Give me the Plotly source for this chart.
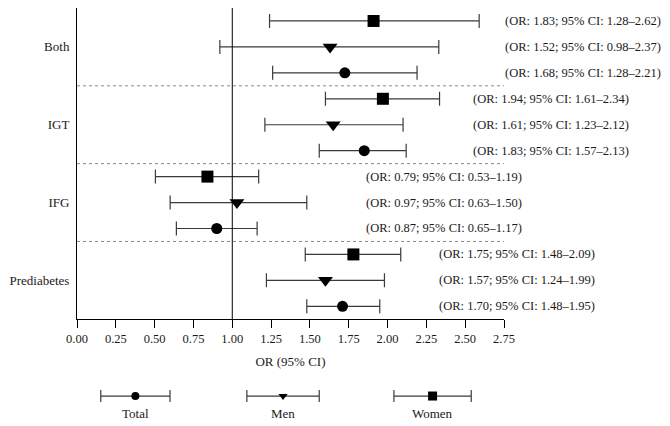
import plotly.graph_objects as go

# ---------------- data ----------------
GROUPS = ["Both", "IGT", "IFG", "Prediabetes"]
SEXES = ["Women", "Men", "Total"]          # order inside each group, top to bottom

OR_WOMEN = [1.91, 1.97, 0.84, 1.78]
LO_WOMEN = [1.24, 1.60, 0.505, 1.47]
HI_WOMEN = [2.59, 2.335, 1.17, 2.085]

OR_MEN = [1.63, 1.65, 1.03, 1.60]
LO_MEN = [0.92, 1.21, 0.60, 1.22]
HI_MEN = [2.33, 2.10, 1.48, 1.98]

OR_TOTAL = [1.725, 1.85, 0.90, 1.71]
LO_TOTAL = [1.26, 1.56, 0.64, 1.48]
HI_TOTAL = [2.19, 2.12, 1.16, 1.95]

LBL_WOMEN = ["(OR: 1.83; 95% CI: 1.28–2.62)", "(OR: 1.94; 95% CI: 1.61–2.34)",
             "(OR: 0.79; 95% CI: 0.53–1.19)", "(OR: 1.75; 95% CI: 1.48–2.09)"]
LBL_MEN = ["(OR: 1.52; 95% CI: 0.98–2.37)", "(OR: 1.61; 95% CI: 1.23–2.12)",
           "(OR: 0.97; 95% CI: 0.63–1.50)", "(OR: 1.57; 95% CI: 1.24–1.99)"]
LBL_TOTAL = ["(OR: 1.68; 95% CI: 1.28–2.21)", "(OR: 1.83; 95% CI: 1.57–2.13)",
             "(OR: 0.87; 95% CI: 0.65–1.17)", "(OR: 1.70; 95% CI: 1.48–1.95)"]

X_TICKS = [0, 0.25, 0.5, 0.75, 1.0, 1.25, 1.5, 1.75, 2.0, 2.25, 2.5, 2.75]
X_TICK_LABELS = ["0.00", "0.25", "0.50", "0.75", "1.00", "1.25", "1.50",
                 "1.75", "2.00", "2.25", "2.50", "2.75"]
X_TITLE = "OR (95% CI)"
LEGEND_LABELS = ["Total", "Men", "Women"]

# ---------------- layout constants ----------------
FONT = "Liberation Serif, Times New Roman, serif"
TXT = "#1a1a1a"
BAR = "#3a3a3a"
X_MAX = 2.75
LABEL_X = [2.745, 2.54, 1.85, 2.32]           # left edge of the OR text per group (axis units)
LEG_X = [0.376, 1.327, 2.29]                  # legend item centres (legend axes)
LEG_HALF = [0.223, 0.233, 0.249]
LEG_Y, LEG_LABEL_Y = 0.478, 0.207

series = [
    ("Women", OR_WOMEN, LO_WOMEN, HI_WOMEN, LBL_WOMEN, "square", 12, 0),
    ("Men", OR_MEN, LO_MEN, HI_MEN, LBL_MEN, "triangle-down", 13, 1),
    ("Total", OR_TOTAL, LO_TOTAL, HI_TOTAL, LBL_TOTAL, "circle", 11, 2),
]

fig = go.Figure()
annotations = []
for name, ors, los, his, lbls, sym, size, off in series:
    rows = [3 * g + off for g in range(len(GROUPS))]
    fig.add_trace(go.Scatter(
        x=ors, y=rows, mode="markers", name=name, showlegend=False,
        marker=dict(symbol=sym, size=size, color="black", line=dict(width=0)),
        error_x=dict(type="data", symmetric=False,
                     array=[h - o for h, o in zip(his, ors)],
                     arrayminus=[o - l for o, l in zip(ors, los)],
                     color=BAR, thickness=1.2, width=7),
        cliponaxis=False,
    ))
    for g, r in enumerate(rows):
        annotations.append(dict(x=LABEL_X[g] / X_MAX, y=r, xref="paper", yref="y", text=lbls[g],
                                showarrow=False, xanchor="left", yanchor="middle",
                                font=dict(family=FONT, size=12.5, color=TXT)))

# legend drawn as its own small axes
leg_syms = [("circle", 8), ("triangle-down", 8), ("square", 9)]
for i, lab in enumerate(LEGEND_LABELS):
    fig.add_trace(go.Scatter(
        x=[LEG_X[i]], y=[LEG_Y], xaxis="x2", yaxis="y2", mode="markers", showlegend=False,
        marker=dict(symbol=leg_syms[i][0], size=leg_syms[i][1], color="black"),
        error_x=dict(type="constant", value=LEG_HALF[i], color=BAR, thickness=1.2, width=6),
        cliponaxis=False,
    ))
    annotations.append(dict(x=LEG_X[i], y=LEG_LABEL_Y, xref="x2", yref="y2", text=lab,
                            showarrow=False, xanchor="center", yanchor="middle",
                            font=dict(family=FONT, size=13, color=TXT)))

n_rows = 3 * len(GROUPS)
shapes = []
# dotted separators between groups
for g in range(1, len(GROUPS)):
    yy = 3 * g - 0.5
    shapes.append(dict(type="line", xref="x", yref="y", x0=0, x1=2.77, y0=yy, y1=yy,
                       line=dict(color="#8a8a8a", width=1, dash="dot")))
# reference line at OR = 1
shapes.append(dict(type="line", xref="x", yref="y", x0=1, x1=1, y0=-0.5, y1=n_rows - 0.5,
                   line=dict(color="black", width=1)))

fig.update_layout(
    width=670, height=426,
    margin=dict(l=77, r=166, t=8, b=0),
    paper_bgcolor="white", plot_bgcolor="white",
    font=dict(family=FONT, size=13, color=TXT),
    xaxis=dict(range=[0, X_MAX], tickvals=X_TICKS, ticktext=X_TICK_LABELS,
               showline=True, linecolor="black", linewidth=1, ticks="outside",
               ticklen=8, tickcolor="black", tickwidth=1, showgrid=False, zeroline=False,
               tickfont=dict(family=FONT, size=12.5, color=TXT),
               title=dict(text=X_TITLE, font=dict(family=FONT, size=13, color=TXT), standoff=11),
               anchor="y", domain=[0, 1]),
    yaxis=dict(range=[n_rows - 0.5, -0.5], domain=[0.2553, 1],
               tickvals=[3 * g + 1 for g in range(len(GROUPS))], ticktext=GROUPS,
               showline=True, linecolor="black", linewidth=1, ticks="",
               ticklabelstandoff=4, showgrid=False, zeroline=False,
               tickfont=dict(family=FONT, size=13, color=TXT), anchor="x"),
    xaxis2=dict(range=[0, X_MAX], domain=[0, 1], anchor="y2", visible=False),
    yaxis2=dict(range=[0, 1], domain=[0, 0.15], anchor="x2", visible=False),
    shapes=shapes,
    annotations=annotations,
    showlegend=False,
)

fig.write_html("out.html", config={"displayModeBar": False},
               post_script="document.body.style.margin='0';document.body.style.overflow='hidden';")
